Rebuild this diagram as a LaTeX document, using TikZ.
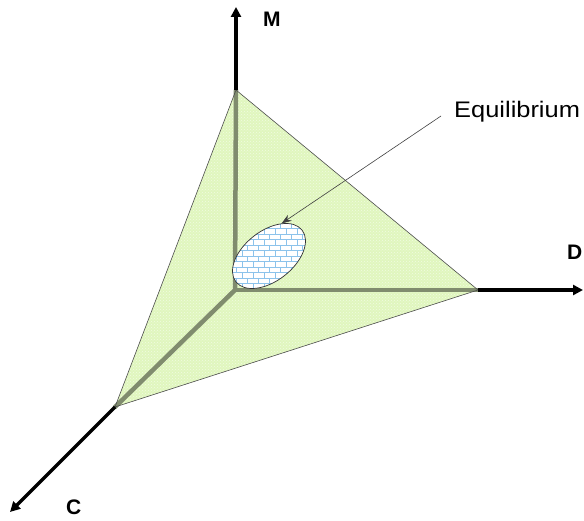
\documentclass[tikz,border=0pt]{standalone}
\usepackage{fontspec}
\setmainfont{Liberation Sans}
\usetikzlibrary{arrows.meta,patterns,shapes.geometric}
\definecolor{trifill}{RGB}{224,246,190}
\definecolor{inaxis}{RGB}{128,140,110}
\definecolor{brickc}{RGB}{140,195,235}
\tikzset{
  outaxis/.style={line width=3.5pt,black,-{Triangle[length=10pt,width=10pt]}},
  inaxisline/.style={line width=4.5pt,inaxis},
  axlabel/.style={font=\bfseries\fontsize{21}{21}\selectfont,inner sep=0pt,anchor=base west},
}
\begin{document}
\begin{tikzpicture}[x=1pt,y=-1pt]
\useasboundingbox (0,0) rectangle (584,521);
\coordinate (O) at (235,290);
\coordinate (Mv) at (236,90);
\coordinate (Dv) at (478,290);
\coordinate (Cv) at (115,407);
\coordinate (Mt) at (236,7);
\coordinate (Dt) at (583,290);
\coordinate (Ct) at (10,512);
% triangle
\fill[trifill] (Mv) -- (Dv) -- (Cv) -- cycle;
\fill[pattern=crosshatch dots,pattern color=white!55!trifill] (Mv) -- (Dv) -- (Cv) -- cycle;
% inner axes
\draw[inaxisline,line cap=round] (O) -- (Mv);
\draw[inaxisline,line cap=round] (O) -- (Dv);
\draw[inaxisline,line cap=round] (O) -- (Cv);
\draw[line width=0.6pt,black!70] (Mv) -- (Dv) -- (Cv) -- cycle;
% outer axes
\draw[outaxis] (Mv) -- (Mt);
\draw[outaxis] (Dv) -- (Dt);
\draw[outaxis] (Cv) -- (Ct);
% labels
\node[axlabel] (M) at (263,27) {M};
\node[axlabel] (D) at (567,260) {D};
\node[axlabel] (C) at (66,514) {C};
% ellipse with bricks
\begin{scope}
  \clip (269,256) ellipse[x radius=42pt,y radius=25pt,rotate=38];
  \fill[white] (220,215) rectangle (320,300);
  \foreach \r in {0,...,16} {
    \pgfmathsetmacro{\yy}{218+5.5*\r}
    \draw[brickc,line width=1pt] (220,\yy) -- (320,\yy);
    \pgfmathsetmacro{\off}{mod(\r,2)*5.5}
    \foreach \c in {0,...,10} {
      \pgfmathsetmacro{\xx}{220+\off+11*\c}
      \draw[brickc,line width=1pt] (\xx,\yy) -- (\xx,\yy+5.5);
    }
  }
\end{scope}
\node[draw=black!80,line width=0.7pt,ellipse,minimum width=84pt,minimum height=50pt,rotate=38,
  inner sep=0pt] (E) at (269,256) {};
% label and arrow
\node[font=\fontsize{22.5}{22.5}\selectfont,anchor=base west,inner sep=0pt,xscale=1.13] (Eq) at (454,118) {Equilibrium};
\coordinate (As) at (441,116);
\draw[line width=0.6pt,black!75,-{Stealth[length=10pt,width=7pt]}] (As) -- (E.north east);
\end{tikzpicture}
\end{document}
